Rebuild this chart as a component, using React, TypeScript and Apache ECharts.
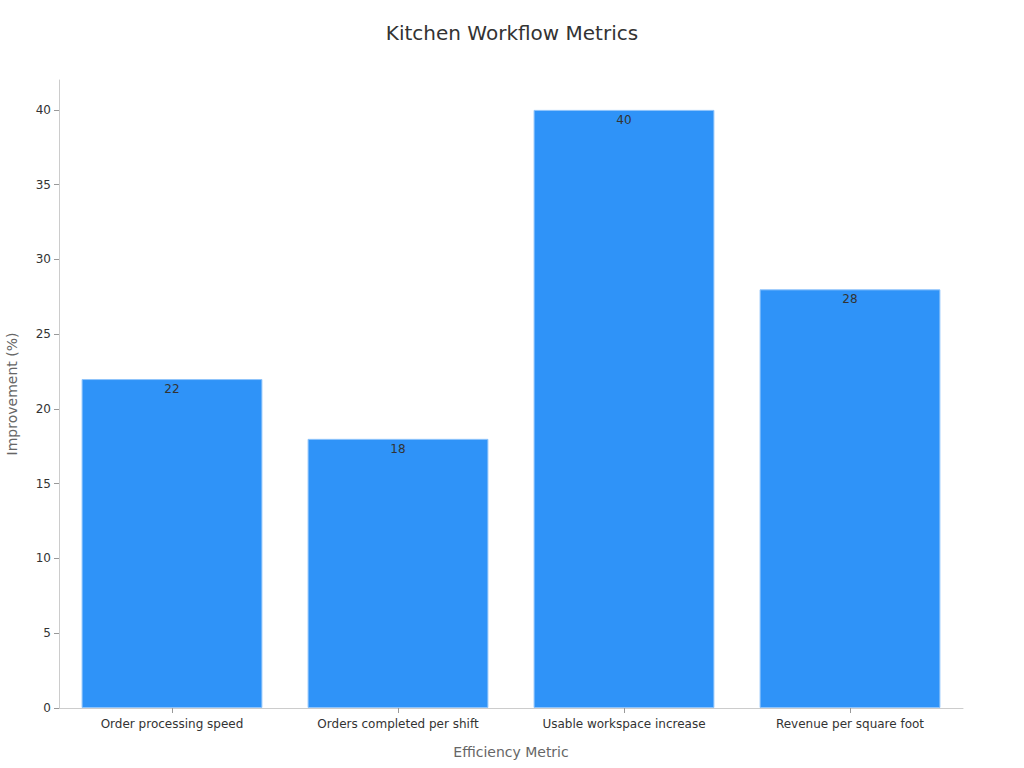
import React, { useEffect, useRef } from "react";
import * as echarts from "echarts";

const categories = [
  "Order processing speed",
  "Orders completed per shift",
  "Usable workspace increase",
  "Revenue per square foot",
];
const improvementValues = [22, 18, 40, 28];
const yTicks = { min: 0, max: 42, interval: 5 };

export default function App() {
  const ref = useRef<HTMLDivElement>(null);
  useEffect(() => {
    if (!ref.current) return;
    const chart = echarts.init(ref.current, null, { renderer: "svg" });
    const font = "DejaVu Sans";
    chart.setOption({
      animation: false,
      backgroundColor: "#ffffff",
      textStyle: { fontFamily: font },
      title: {
        text: "Kitchen Workflow Metrics",
        left: "center",
        top: 18,
        textStyle: { fontFamily: font, fontSize: 20, fontWeight: "normal", color: "#333333" },
      },
      grid: {
        left: 59,
        right: 61,
        top: 80,
        bottom: 60,
        containLabel: false,
        outerBoundsMode: "none",
      },
      xAxis: {
        type: "category",
        data: categories,
        name: "Efficiency Metric",
        nameLocation: "middle",
        nameGap: 37,
        nameTextStyle: { fontFamily: font, fontSize: 14, color: "#666666" },
        axisLine: { lineStyle: { color: "#cccccc" } },
        axisTick: { show: true, alignWithLabel: true, lineStyle: { color: "#999999" } },
        axisLabel: { fontFamily: font, fontSize: 12, color: "#333333", margin: 10 },
      },
      yAxis: {
        type: "value",
        min: yTicks.min,
        max: yTicks.max,
        interval: yTicks.interval,
        name: "Improvement (%)",
        nameLocation: "middle",
        nameGap: 40,
        nameTextStyle: { fontFamily: font, fontSize: 14, color: "#666666" },
        axisLine: { show: true, lineStyle: { color: "#cccccc" } },
        axisTick: { show: true, lineStyle: { color: "#999999" } },
        axisLabel: {
          fontFamily: font,
          fontSize: 12,
          color: "#333333",
          showMaxLabel: false,
        },
        splitLine: { show: false },
      },
      series: [
        {
          type: "bar",
          data: improvementValues,
          barWidth: "80%",
          itemStyle: { color: "#2f93f8", borderColor: "#8fc4fb", borderWidth: 1 },
          label: {
            show: true,
            position: "insideTop",
            distance: 4,
            color: "#333333",
            fontFamily: font,
            fontSize: 12,
          },
        },
      ],
    });
    return () => chart.dispose();
  }, []);
  return (
    <div
      ref={ref}
      style={{ position: "absolute", left: 0, top: 0, width: 1024, height: 768 }}
    />
  );
}
